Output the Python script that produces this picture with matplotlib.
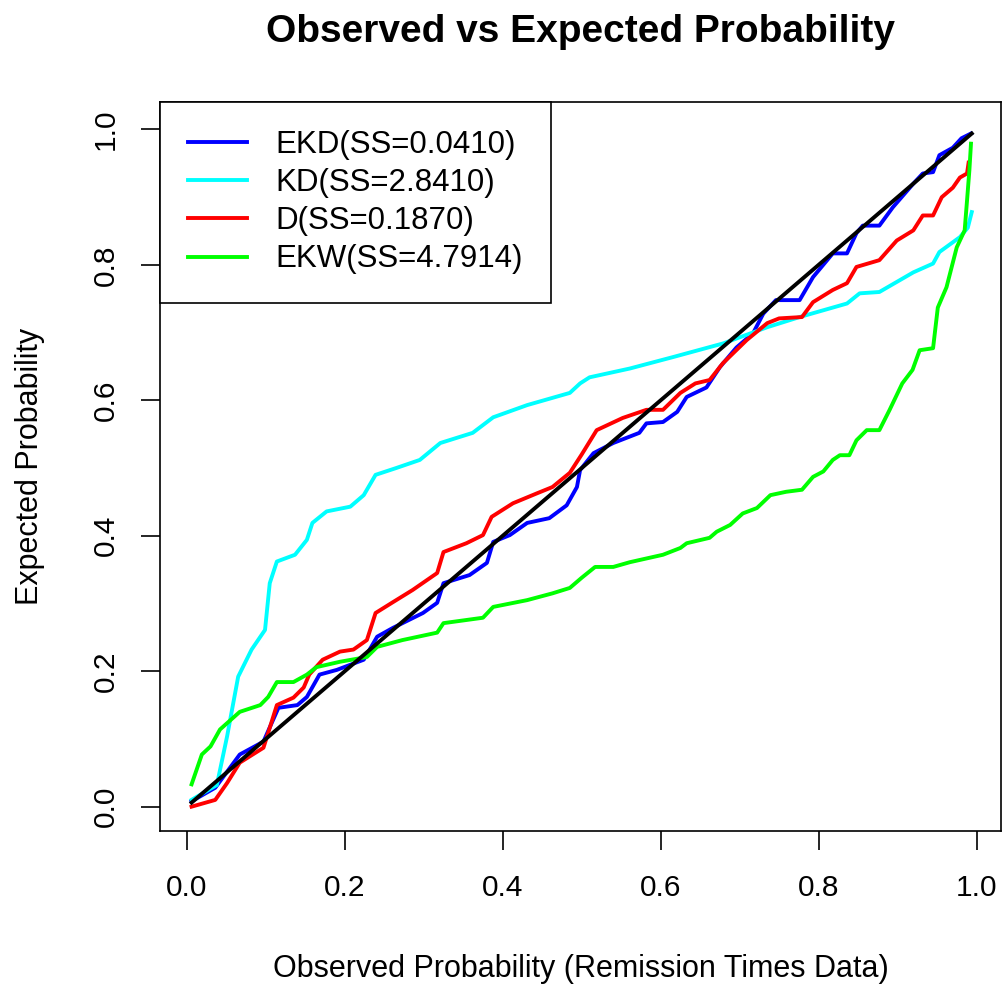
import matplotlib
matplotlib.use("Agg")
import matplotlib.pyplot as plt

plt.rcParams['font.family'] = ['Liberation Sans', 'DejaVu Sans']

# reference line (observed vs observed)
ref_x = [0.006, 0.994]
ref_y = [0.006, 0.994]

# EKD
ekd_x = [0.006, 0.036, 0.067, 0.097, 0.116, 0.140, 0.152, 0.168, 0.190, 0.224,
         0.241, 0.261, 0.299, 0.317, 0.325, 0.358, 0.380, 0.388, 0.409, 0.431,
         0.459, 0.481, 0.494, 0.498, 0.515, 0.540, 0.573, 0.582, 0.603, 0.621,
         0.633, 0.658, 0.675, 0.696, 0.717, 0.730, 0.746, 0.776, 0.793, 0.818,
         0.836, 0.848, 0.856, 0.877, 0.894, 0.920, 0.932, 0.945, 0.953, 0.970,
         0.981, 0.993]
ekd_y = [0.008, 0.028, 0.077, 0.096, 0.146, 0.150, 0.162, 0.195, 0.202, 0.217,
         0.251, 0.264, 0.286, 0.301, 0.330, 0.342, 0.360, 0.391, 0.401, 0.419,
         0.426, 0.445, 0.472, 0.497, 0.522, 0.537, 0.552, 0.566, 0.568, 0.583,
         0.605, 0.619, 0.649, 0.678, 0.699, 0.728, 0.748, 0.748, 0.782, 0.817,
         0.817, 0.847, 0.858, 0.858, 0.885, 0.920, 0.935, 0.937, 0.962, 0.973,
         0.987, 0.994]

# KD
kd_x = [0.006, 0.038, 0.051, 0.065, 0.082, 0.099, 0.105, 0.114, 0.137, 0.152,
        0.159, 0.177, 0.207, 0.224, 0.239, 0.265, 0.295, 0.321, 0.362, 0.388,
        0.431, 0.485, 0.498, 0.510, 0.561, 0.616, 0.679, 0.735, 0.776, 0.836,
        0.852, 0.877, 0.920, 0.945, 0.953, 0.979, 0.989, 0.994]
kd_y = [0.010, 0.032, 0.104, 0.192, 0.232, 0.261, 0.330, 0.362, 0.372, 0.394,
        0.419, 0.436, 0.443, 0.460, 0.490, 0.500, 0.512, 0.537, 0.552, 0.575,
        0.593, 0.611, 0.625, 0.634, 0.647, 0.664, 0.684, 0.708, 0.723, 0.743,
        0.758, 0.760, 0.789, 0.802, 0.819, 0.841, 0.855, 0.878]

# D
d_x = [0.006, 0.036, 0.051, 0.067, 0.097, 0.103, 0.114, 0.135, 0.148, 0.155,
       0.172, 0.194, 0.211, 0.228, 0.239, 0.261, 0.286, 0.317, 0.325, 0.354,
       0.375, 0.386, 0.413, 0.444, 0.463, 0.485, 0.500, 0.519, 0.552, 0.582,
       0.603, 0.625, 0.644, 0.662, 0.679, 0.709, 0.735, 0.750, 0.779, 0.793,
       0.818, 0.836, 0.848, 0.877, 0.899, 0.920, 0.932, 0.945, 0.956, 0.970,
       0.979, 0.988, 0.990]
d_y = [0.000, 0.010, 0.035, 0.065, 0.087, 0.109, 0.150, 0.161, 0.176, 0.195,
       0.217, 0.229, 0.232, 0.246, 0.286, 0.302, 0.320, 0.345, 0.376, 0.389,
       0.401, 0.428, 0.448, 0.463, 0.472, 0.493, 0.520, 0.556, 0.574, 0.586,
       0.586, 0.611, 0.625, 0.630, 0.655, 0.689, 0.714, 0.721, 0.723, 0.745,
       0.763, 0.773, 0.797, 0.807, 0.836, 0.851, 0.873, 0.873, 0.900, 0.914,
       0.929, 0.935, 0.951]

# EKW
ekw_x = [0.006, 0.019, 0.030, 0.042, 0.067, 0.093, 0.103, 0.114, 0.135, 0.152,
         0.164, 0.194, 0.228, 0.241, 0.273, 0.317, 0.325, 0.375, 0.388, 0.431,
         0.463, 0.485, 0.500, 0.517, 0.540, 0.561, 0.603, 0.625, 0.633, 0.662,
         0.671, 0.688, 0.704, 0.722, 0.739, 0.759, 0.779, 0.793, 0.806, 0.818,
         0.827, 0.839, 0.848, 0.861, 0.877, 0.890, 0.906, 0.919, 0.928, 0.945,
         0.951, 0.962, 0.975, 0.985, 0.988, 0.991, 0.993]
ekw_y = [0.033, 0.077, 0.089, 0.114, 0.140, 0.150, 0.162, 0.184, 0.184, 0.195,
         0.206, 0.214, 0.221, 0.236, 0.246, 0.257, 0.271, 0.279, 0.295, 0.305,
         0.315, 0.323, 0.338, 0.354, 0.354, 0.361, 0.372, 0.382, 0.389, 0.397,
         0.406, 0.416, 0.433, 0.441, 0.460, 0.465, 0.468, 0.487, 0.495, 0.512,
         0.519, 0.519, 0.541, 0.556, 0.556, 0.586, 0.625, 0.645, 0.674, 0.677,
         0.737, 0.767, 0.826, 0.851, 0.895, 0.940, 0.979]

labels = ["EKD(SS=0.0410)", "KD(SS=2.8410)", "D(SS=0.1870)", "EKW(SS=4.7914)"]
colors = ["#0000ff", "#00ffff", "#ff0000", "#00ff00"]
ticks = [0.0, 0.2, 0.4, 0.6, 0.8, 1.0]
tick_labels = ["0.0", "0.2", "0.4", "0.6", "0.8", "1.0"]

fig = plt.figure(figsize=(10.05, 9.9), dpi=100)
ax = fig.add_axes([0.1592, 0.1609, 0.8368, 0.7361])

lw = 2.8
ax.plot(ekd_x, ekd_y, color=colors[0], lw=lw, label=labels[0])
ax.plot(kd_x, kd_y, color=colors[1], lw=lw, label=labels[1])
ax.plot(d_x, d_y, color=colors[2], lw=lw, label=labels[2])
ax.plot(ekw_x, ekw_y, color=colors[3], lw=lw, label=labels[3])
ax.plot(ref_x, ref_y, color="black", lw=lw, zorder=5)

ax.set_xlim(-0.034, 1.031)
ax.set_ylim(-0.0355, 1.0406)

ax.set_xticks(ticks)
ax.set_xticklabels(tick_labels, fontsize=21.5)
ax.set_yticks(ticks)
ax.set_yticklabels(tick_labels, fontsize=21.5, rotation=90, va="center")
ax.tick_params(axis="x", length=14, width=1.2, direction="out", pad=17)
ax.tick_params(axis="y", length=14, width=1.2, direction="out", pad=15)

for s in ax.spines.values():
    s.set_linewidth(1.2)

ax.set_xlabel("Observed Probability (Remission Times Data)", fontsize=22)
ax.xaxis.label.set_va("center")
ax.xaxis.set_label_coords(0.5, -0.19)
ax.set_ylabel("Expected Probability", fontsize=22)
ax.yaxis.label.set_va("center")
ax.yaxis.set_label_coords(-0.154, 0.5)

fig.text(0.5776, 0.968, "Observed vs Expected Probability", fontsize=28,
         fontweight="bold", ha="center", va="center")

leg = ax.legend(loc="upper left", bbox_to_anchor=(0, 1), borderaxespad=0,
                fontsize=22.5, handlelength=1.9, handletextpad=0.9,
                labelspacing=0.26, borderpad=0.9, fancybox=False,
                framealpha=1, edgecolor="black")
leg.get_frame().set_linewidth(1.2)

fig.savefig("out.png", dpi=100)
